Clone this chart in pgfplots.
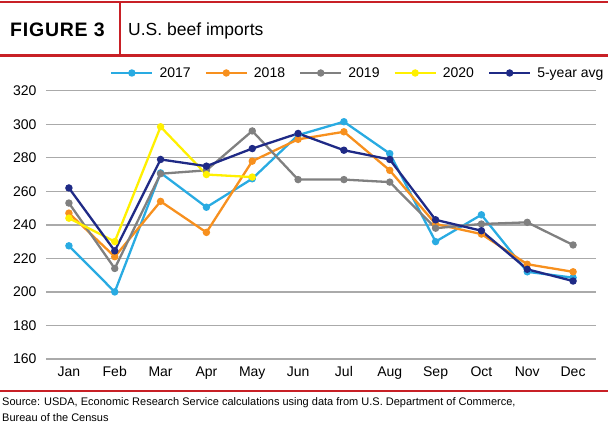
\documentclass[border=0pt]{standalone}
\usepackage{fontspec}
\setmainfont{Liberation Sans}
\usepackage{pgfplots}
\usepackage{pgfplotstable}
\pgfplotsset{compat=1.18}

\definecolor{figred}{RGB}{200,32,38}
\definecolor{c2017}{RGB}{41,171,226}
\definecolor{c2018}{RGB}{247,144,30}
\definecolor{c2019}{RGB}{128,128,128}
\definecolor{c2020}{RGB}{255,240,0}
\definecolor{cavg}{RGB}{31,42,134}
\definecolor{gridgray}{RGB}{170,170,170}

% Monthly U.S. beef imports (million pounds)
\pgfplotstableread{
m   y2017  y2018  y2019  y2020  yavg
0   227.5  247    253    244    262
1   200    221    214    230    224.5
2   271    254    270.5  298.5  279
3   250.5  235.5  272.5  270    275
4   267.5  278    296    268.5  285.5
5   293.5  291    267    nan    294.5
6   301.5  295.5  267    nan    284.5
7   282.5  272.5  265.5  nan    279
8   230    240.5  238    nan    243
9   246    234.5  240.5  nan    236.5
10  212    216.5  241.5  nan    213.5
11  208.5  212    228    nan    206.5
}\beefdata

\begin{document}
\begin{tikzpicture}
\useasboundingbox (0,0) rectangle (610pt,426pt);

% header rules and titles
\draw[figred, line width=2pt] (0,423.7pt) -- (608pt,423.7pt);
\draw[figred, line width=2.4pt] (0,370.3pt) -- (608pt,370.3pt);
\draw[figred, line width=1.4pt] (120pt,423.7pt) -- (120pt,370.3pt);
\node[anchor=base west, inner sep=0pt] at (10pt,389.3pt)
  {\fontsize{19.5}{20}\selectfont\addfontfeature{LetterSpace=4}\bfseries FIGURE 3};
\node[anchor=base west, inner sep=0pt] at (128pt,390pt)
  {\fontsize{17.5}{19}\selectfont U.S. beef imports};

% footer rule and source
\draw[figred, line width=1.6pt] (0,35pt) -- (608pt,35pt);
\node[anchor=base west, inner sep=0pt] at (2pt,21pt)
  {\fontsize{11}{12}\selectfont Source: USDA, Economic Research Service calculations using data from U.S. Department of Commerce,};
\node[anchor=base west, inner sep=0pt] at (2pt,5pt)
  {\fontsize{11}{12}\selectfont Bureau of the Census};

\begin{axis}[
  at={(46pt,67pt)}, anchor=south west,
  width=550pt, height=268.3pt, scale only axis,
  xmin=-0.5, xmax=11.5, ymin=160, ymax=320,
  xtick={0,...,11},
  xticklabels={Jan,Feb,Mar,Apr,May,Jun,Jul,Aug,Sep,Oct,Nov,Dec},
  ytick={160,180,...,320},
  ymajorgrids, grid style={gridgray, line width=1.3pt},
  axis line style={draw=none}, major tick length=0pt,
  tick label style={font=\fontsize{14}{16}\selectfont},
  /pgf/number format/assume math mode=true,
  yticklabel style={xshift=-6pt},
  xticklabel style={yshift=-4pt},
  unbounded coords=discard,
  every axis plot/.append style={line width=2.3pt, mark=*, mark size=2.5pt},
  legend columns=5,
  legend image code/.code={%
    \draw[mark repeat=2, mark phase=2] plot coordinates {(0pt,0pt) (20.5pt,0pt) (41pt,0pt)};},
  legend style={at={(0.1164,1.066)}, anchor=west, draw=none, fill=none,
    inner sep=0pt, font=\fontsize{14}{16}\selectfont,
    nodes={inner sep=0pt},
    /tikz/every odd column/.append style={column sep=6pt},
    /tikz/every even column/.append style={column sep=14pt}},
]
\addplot[c2017] table[x=m, y=y2017] {\beefdata};
\addlegendentry{2017}
\addplot[c2018] table[x=m, y=y2018] {\beefdata};
\addlegendentry{2018}
\addplot[c2019] table[x=m, y=y2019] {\beefdata};
\addlegendentry{2019}
\addplot[c2020] table[x=m, y=y2020] {\beefdata};
\addlegendentry{2020}
\addplot[cavg] table[x=m, y=yavg] {\beefdata};
\addlegendentry{5-year avg}
\end{axis}
\end{tikzpicture}
\end{document}
